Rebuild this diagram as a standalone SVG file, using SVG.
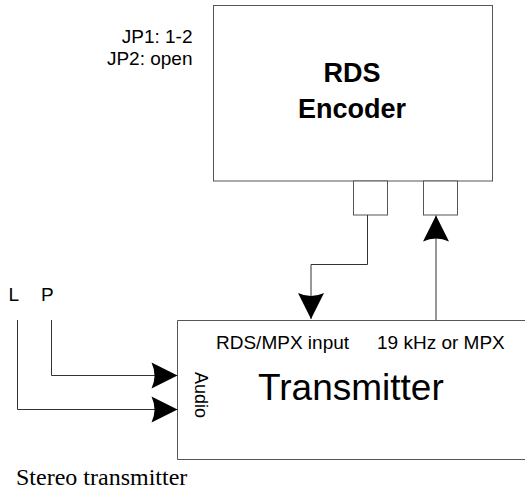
<svg xmlns="http://www.w3.org/2000/svg" width="525" height="490" viewBox="0 0 525 490">
<style>
.box{fill:#fff;stroke:#555;stroke-width:1}
.ln{fill:none;stroke:#333;stroke-width:1}
.t{font-family:"Liberation Sans",Arial,sans-serif;fill:#000}
.s{font-family:"Liberation Serif","Times New Roman",serif;fill:#000}
</style>
<defs>
<marker id="arr" markerUnits="userSpaceOnUse" markerWidth="27" markerHeight="27" refX="26" refY="13" orient="auto" overflow="visible">
<path d="M0,0 Q6,13 0,26 L26,13 Z" fill="#000"/>
</marker>
</defs>
<rect width="525" height="490" fill="#fff"/>
<g id="jumpers">
<text class="t" x="192.5" y="43" font-size="19" text-anchor="end">JP1: 1-2</text>
<text class="t" x="192.5" y="65" font-size="19" text-anchor="end">JP2: open</text>
</g>
<g id="rds-encoder">
<rect class="box" x="213.5" y="5.5" width="279" height="175.5"/>
<text class="t" x="352" y="82" font-size="27" font-weight="bold" text-anchor="middle">RDS</text>
<text class="t" x="352" y="117.5" font-size="27" font-weight="bold" text-anchor="middle">Encoder</text>
</g>
<g id="port-rds">
<rect class="box" x="353.5" y="181" width="34" height="34"/>
</g>
<g id="port-19k">
<rect class="box" x="423.5" y="181" width="34" height="34"/>
</g>
<g id="transmitter">
<path class="box" d="M530,320.5 H177.5 V459.5 H530"/>
<text class="t" x="216" y="349" font-size="19">RDS/MPX input</text>
<text class="t" x="377" y="349" font-size="19">19 kHz or MPX</text>
<text class="t" x="258" y="400" font-size="37">Transmitter</text>
<text class="t" font-size="18" transform="translate(195,372) rotate(90)">Audio</text>
</g>
<g id="inputs">
<text class="t" x="8.5" y="301" font-size="19">L</text>
<text class="t" x="41" y="301" font-size="19">P</text>
</g>
<g id="connectors">
<path class="ln" d="M367.5,215 V264.5 H311 V319" marker-end="url(#arr)"/>
<path class="ln" d="M436,320 V215.5" marker-end="url(#arr)"/>
<path class="ln" d="M51.5,320 V375.5 H177.5" marker-end="url(#arr)"/>
<path class="ln" d="M17.5,320 V409.5 H177.5" marker-end="url(#arr)"/>
</g>
<text class="s" x="16" y="485" font-size="24">Stereo transmitter</text>
</svg>
